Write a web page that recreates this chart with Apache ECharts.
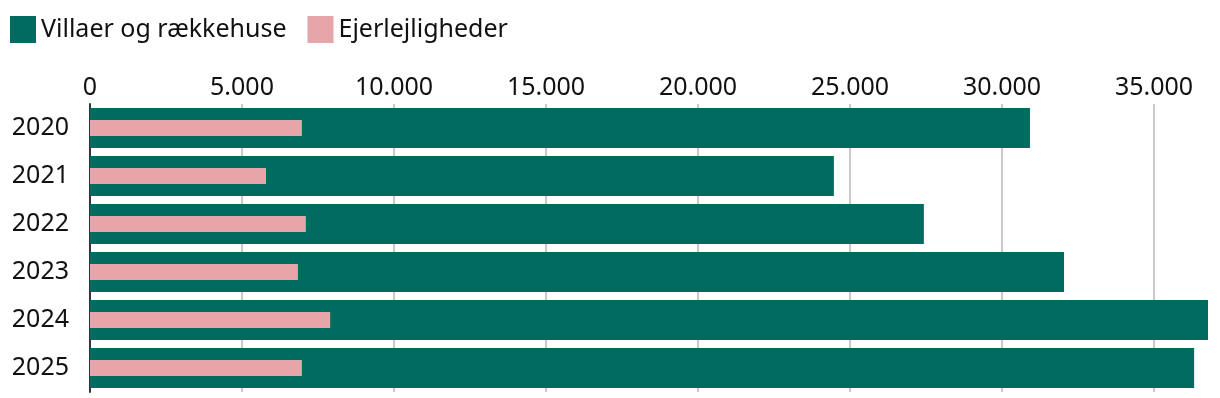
<!DOCTYPE html>
<html>
<head>
<meta charset="utf-8">
<script src="https://cdn.jsdelivr.net/npm/echarts@6/dist/echarts.min.js"></script>
<style>html,body{margin:0;padding:0;background:#fff}#c{width:1220px;height:398px}</style>
</head>
<body>
<div id="c"></div>
<script>
var years = ['2020', '2021', '2022', '2023', '2024', '2025'];
var villaer = [30920, 24470, 27430, 32040, 36776, 36320];
var ejerlejligheder = [6970, 5790, 7100, 6840, 7900, 6970];
var seriesNames = ['Villaer og rækkehuse', 'Ejerlejligheder'];

function fmt(v) {
  return String(v).replace(/\B(?=(\d{3})+(?!\d))/g, '.');
}
var font = '"Noto Sans", sans-serif';
var chart = echarts.init(document.getElementById('c'));
chart.setOption({
  animation: false,
  textStyle: { fontFamily: font },
  legend: {
    left: 10, top: 16, padding: 0, itemWidth: 26, itemHeight: 27, itemGap: 21,
    icon: 'rect',
    textStyle: { fontSize: 25, color: '#111', fontFamily: font },
    data: seriesNames
  },
  grid: { left: 90, right: 12, top: 104, height: 288 },
  xAxis: {
    type: 'value', position: 'top', min: 0, max: 36776, interval: 5000,
    axisLine: { show: false }, axisTick: { show: false },
    axisLabel: {
      fontSize: 25, color: '#111', margin: 4, fontFamily: font,
      formatter: function (v) { return v % 5000 === 0 ? fmt(v) : ''; }
    },
    splitLine: { showMinLine: false, showMaxLine: false, lineStyle: { color: '#c8c8c8', width: 2 } }
  },
  yAxis: [{
    type: 'category', inverse: true, data: years,
    axisLine: { show: true, lineStyle: { color: '#333', width: 2 } },
    axisTick: { show: false },
    axisLabel: { fontSize: 25, color: '#111', margin: 21, fontFamily: font }
  }, {
    type: 'category', inverse: true, data: years, show: false
  }],
  series: [
    { name: seriesNames[0], type: 'bar', yAxisIndex: 0, data: villaer, barWidth: 40, itemStyle: { color: '#006B5F' } },
    { name: seriesNames[1], type: 'bar', yAxisIndex: 1, data: ejerlejligheder, barWidth: 16, itemStyle: { color: '#E5A5A9' } }
  ]
});
</script>
</body>
</html>
